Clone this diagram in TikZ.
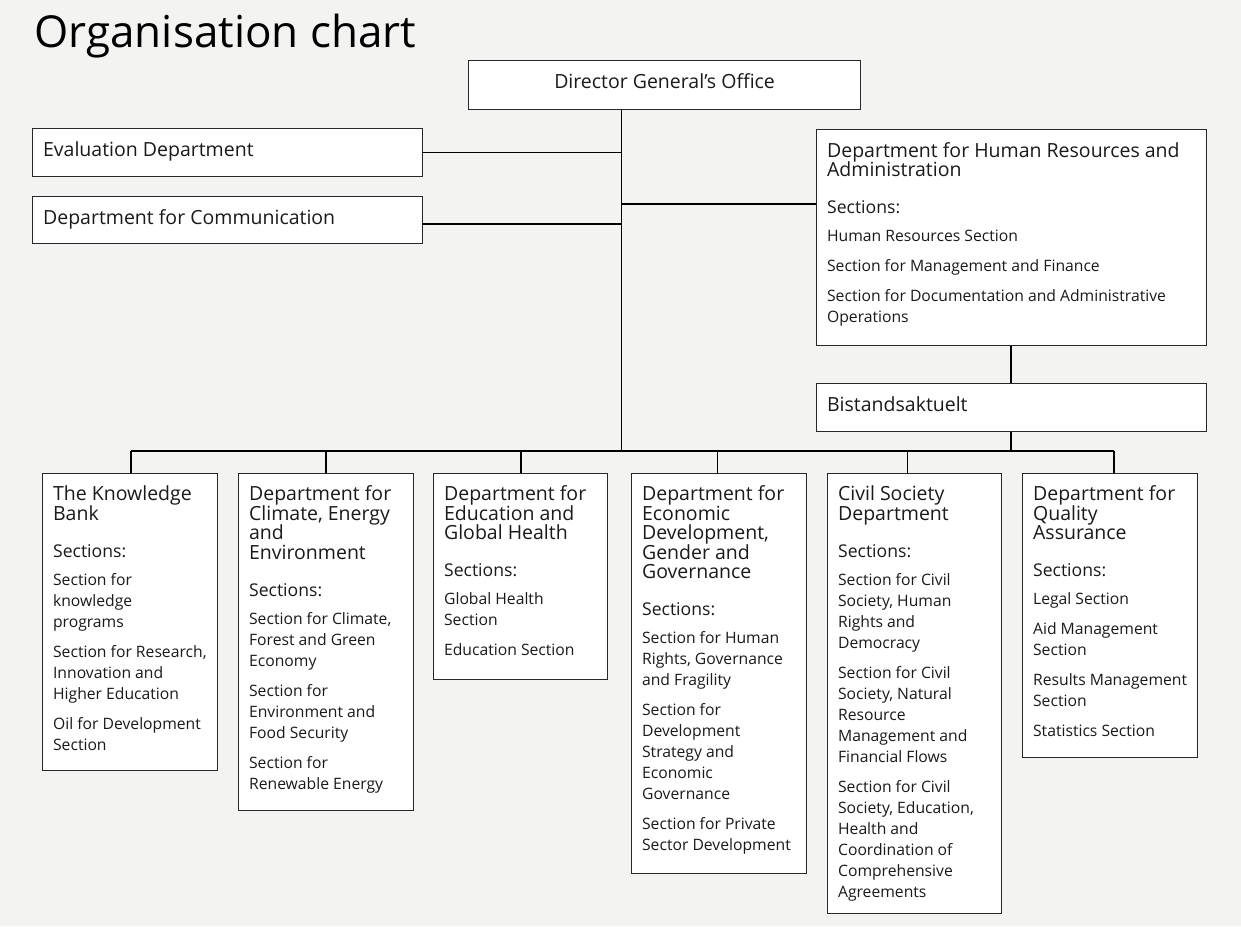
\documentclass[tikz,border=0pt]{standalone}
\usepackage{fontspec}
\setmainfont{Open Sans}
\usetikzlibrary{positioning}

\definecolor{bgcol}{RGB}{243,243,242}
\definecolor{inkcol}{RGB}{26,26,26}
\definecolor{edgecol}{RGB}{40,40,40}

% box text: width, height, content
\newcommand{\boxtext}[3]{\parbox[c][#2][t]{#1}{\raggedright\lineskiplimit=-\maxdimen\color{inkcol}#3}}
\newcommand{\unitname}[1]{{\fontsize{19.5}{19.5}\selectfont\rule{0pt}{27.5pt}#1\par}}
\newcommand{\secthead}{{\vspace{16pt}\fontsize{17.6}{21}\selectfont Sections:\par}\vspace{-2pt}}
\newcommand{\sect}[1]{{\vspace{9pt}\fontsize{15.7}{21}\selectfont #1\par}}

\begin{document}
\begin{tikzpicture}[x=1pt,y=-1pt,
  unit box/.style={draw=edgecol,fill=white,line width=1.2pt,anchor=north west,inner xsep=10.5pt,inner ysep=0pt},
  link/.style={draw=black,line width=1.5pt},
  bus/.style={draw=black,line width=2pt}]

  \path[use as bounding box,fill=bgcol] (0,0) rectangle (1241,926);

  \node[anchor=base west,text=black,font=\fontsize{44}{44}\selectfont] (title) at (31,47) {Organisation chart};

  % top level
  \node[unit box] (dg) at (468,60) {\boxtext{371pt}{49pt}{\centering\unitname{Director General’s Office}}};
  \node[unit box] (eval) at (32,128) {\boxtext{369pt}{48pt}{\unitname{Evaluation Department}}};
  \node[unit box] (comm) at (32,196) {\boxtext{369pt}{47pt}{\unitname{Department for Communication}}};
  \node[unit box] (hr) at (816,129) {\boxtext{369pt}{216pt}{%
    \unitname{Department for Human Resources and\\Administration}
    \secthead
    \sect{Human Resources Section}
    \sect{Section for Management and Finance}
    \sect{Section for Documentation and Administrative\\Operations}}};
  \node[unit box] (bist) at (816,383) {\boxtext{369pt}{48pt}{\unitname{Bistandsaktuelt}}};

  % departments
  \node[unit box] (kb) at (42,472.5) {\boxtext{154pt}{297.5pt}{%
    \unitname{The Knowledge\\Bank}
    \secthead
    \sect{Section for\\knowledge\\programs}
    \sect{Section for Research,\\Innovation and\\Higher Education}
    \sect{Oil for Development\\Section}}};
  \node[unit box] (climate) at (238,472.5) {\boxtext{154pt}{337.5pt}{%
    \unitname{Department for\\Climate, Energy\\and\\Environment}
    \secthead
    \sect{Section for Climate,\\Forest and Green\\Economy}
    \sect{Section for\\Environment and\\Food Security}
    \sect{Section for\\Renewable Energy}}};
  \node[unit box] (edu) at (433,472.5) {\boxtext{153pt}{206.5pt}{%
    \unitname{Department for\\Education and\\Global Health}
    \secthead
    \sect{Global Health\\Section}
    \sect{Education Section}}};
  \node[unit box] (econ) at (631,472.5) {\boxtext{154pt}{400.5pt}{%
    \unitname{Department for\\Economic\\Development,\\Gender and\\Governance}
    \secthead
    \sect{Section for Human\\Rights, Governance\\and Fragility}
    \sect{Section for\\Development\\Strategy and\\Economic\\Governance}
    \sect{Section for Private\\Sector Development}}};
  \node[unit box] (civil) at (827,472.5) {\boxtext{153pt}{440.5pt}{%
    \unitname{Civil Society\\Department}
    \secthead
    \sect{Section for Civil\\Society, Human\\Rights and\\Democracy}
    \sect{Section for Civil\\Society, Natural\\Resource\\Management and\\Financial Flows}
    \sect{Section for Civil\\Society, Education,\\Health and\\Coordination of\\Comprehensive\\Agreements}}};
  \node[unit box] (qa) at (1022,472.5) {\boxtext{154pt}{284pt}{%
    \unitname{Department for\\Quality\\Assurance}
    \secthead
    \sect{Legal Section}
    \sect{Aid Management\\Section}
    \sect{Results Management\\Section}
    \sect{Statistics Section}}};

  % connectors
  \coordinate (trunk foot) at (621.7,450.5);
  \coordinate (comm join) at (621.7,224);
  \coordinate (hr join) at (621.7,204);
  \coordinate (bist drop) at (1011,450.5);
  \coordinate (kb drop) at (131,450.5);
  \coordinate (climate drop) at (326,450.5);
  \coordinate (edu drop) at (521,450.5);
  \coordinate (econ drop) at (717.7,450.5);
  \coordinate (civil drop) at (907.7,450.5);
  \coordinate (qa drop) at (1114,450.5);

  \draw[link] (dg.south -| trunk foot) -- (trunk foot);
  \draw[link] (eval.east) -- (eval.east -| trunk foot);
  \draw[link] (comm.east |- comm join) -- (comm join);
  \draw[link] (hr join) -- (hr join -| hr.west);
  \draw[link] (hr.south -| bist drop) -- (bist.north -| bist drop);
  \draw[link] (bist.south -| bist drop) -- (bist drop);
  \draw[bus] (kb drop) -- (qa drop);
  \foreach \n in {kb,climate,edu,econ,civil,qa}
    \draw[link] (\n\space drop) -- (\n\space drop |- \n.north);
\end{tikzpicture}
\end{document}
